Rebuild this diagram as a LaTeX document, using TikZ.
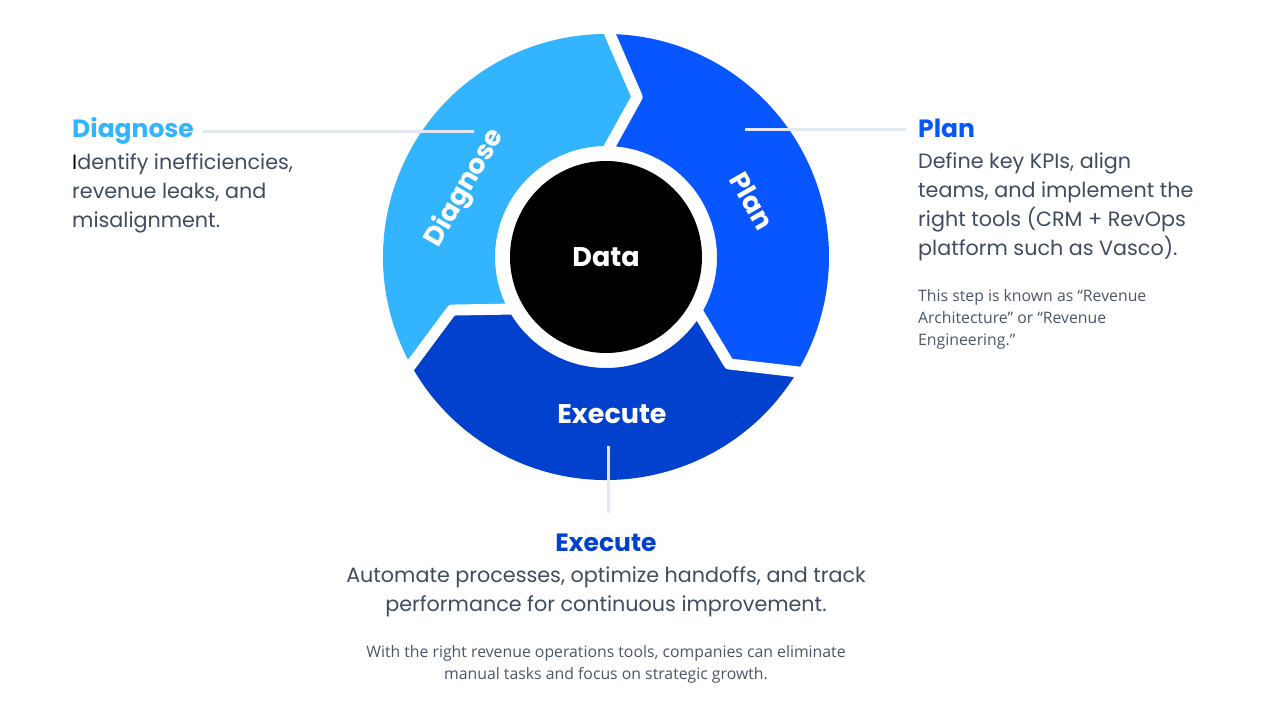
\documentclass[tikz,border=0pt]{standalone}
\usepackage{fontspec}
\setmainfont{Poppins}
\newfontfamily\notefont{Open Sans}
\usetikzlibrary{positioning}
\definecolor{diagblue}{RGB}{51,180,255}
\definecolor{planblue}{RGB}{8,86,255}
\definecolor{execblue}{RGB}{2,65,205}
\definecolor{textslate}{RGB}{63,75,94}
\definecolor{notegray}{RGB}{74,85,104}
\definecolor{leadergray}{RGB}{226,232,240}

\begin{document}
\begin{tikzpicture}[x=1pt,y=1pt,
  seg label/.style={text=white,font=\bfseries\fontsize{27}{30}\selectfont},
  head/.style={font=\bfseries\fontsize{25}{28}\selectfont,inner sep=0pt},
  body/.style={text=textslate,font=\fontsize{20.7}{29}\selectfont,inner sep=0pt},
  note/.style={text=notegray,font=\notefont\fontsize{15.8}{22}\selectfont,inner sep=0pt},
  leader/.style={draw=leadergray,line width=3pt}]
  \useasboundingbox (0,0) rectangle (1280,720);
  \coordinate (c) at (606,463);

  % the three arrow segments, running clockwise
  \foreach \a/\col in {90/diagblue,-30/planblue,210/execblue}
    \fill[\col,shift={(c)}] (\a+120:223) arc[start angle=\a+120,end angle=\a,radius=223]
      -- (\a-11:163) -- (\a:111) arc[start angle=\a,end angle=\a+120,radius=111]
      -- (\a+109:163) -- cycle;
  \foreach \a in {90,-30,210}
    \draw[white,line width=11pt,line join=round,shift={(c)}]
      (\a:232) -- (\a-11:163) -- (\a:104);
  \node[circle,fill=black,minimum size=192pt,inner sep=0pt,seg label] (data) at (c) {Data};

  \node[seg label,rotate=60] (diaglbl) at (465,532) {Diagnose};
  \node[seg label,rotate=-60] (planlbl) at (752,519) {Plan};
  \node[seg label] (execlbl) at (612,306) {Execute};

  % texts round the wheel
  \node[head,text=diagblue,anchor=base west] (diaghead) at (72,582) {Diagnose};
  \node[body,align=left,anchor=base west] (diagtext) at ([yshift=-90pt]diaghead.base west)
    {\textcolor{black}{I}dentify inefficiencies,\\revenue leaks, and\\misalignment.};

  \node[head,text=planblue,anchor=base west] (planhead) at (918,582) {Plan};
  \node[body,align=left,anchor=base west] (plantext) at ([yshift=-118pt]planhead.base west)
    {Define key KPIs, align\\teams, and implement the\\right tools (CRM + RevOps\\platform such as Vasco).};
  \node[note,align=left,anchor=base west] (plannote) at ([yshift=-90pt]plantext.base west)
    {This step is known as “Revenue\\Architecture” or “Revenue\\Engineering.”};

  \node[head,text=execblue,anchor=base] (exechead) at (606,168) {Execute};
  \node[body,align=center,anchor=base] (exectext) at ([yshift=-60pt]exechead.base)
    {Automate processes, optimize handoffs, and track\\performance for continuous improvement.};
  \node[note,align=center,anchor=base] (execnote) at ([yshift=-68pt]exectext.base)
    {With the right revenue operations tools, companies can eliminate\\manual tasks and focus on strategic growth.};

  % leader lines
  \coordinate (diagtip) at (474,591);
  \coordinate (plantip) at (745,590);
  \coordinate (exectip) at (608,274);
  \draw[leader] ([xshift=9pt]diaghead.east) -- (diaghead.east -| diagtip);
  \draw[leader] (plantip) -- ([xshift=-12pt]planhead.west |- plantip);
  \draw[leader] (exectip) -- ([yshift=21pt]exechead.north -| exectip);
\end{tikzpicture}
\end{document}
